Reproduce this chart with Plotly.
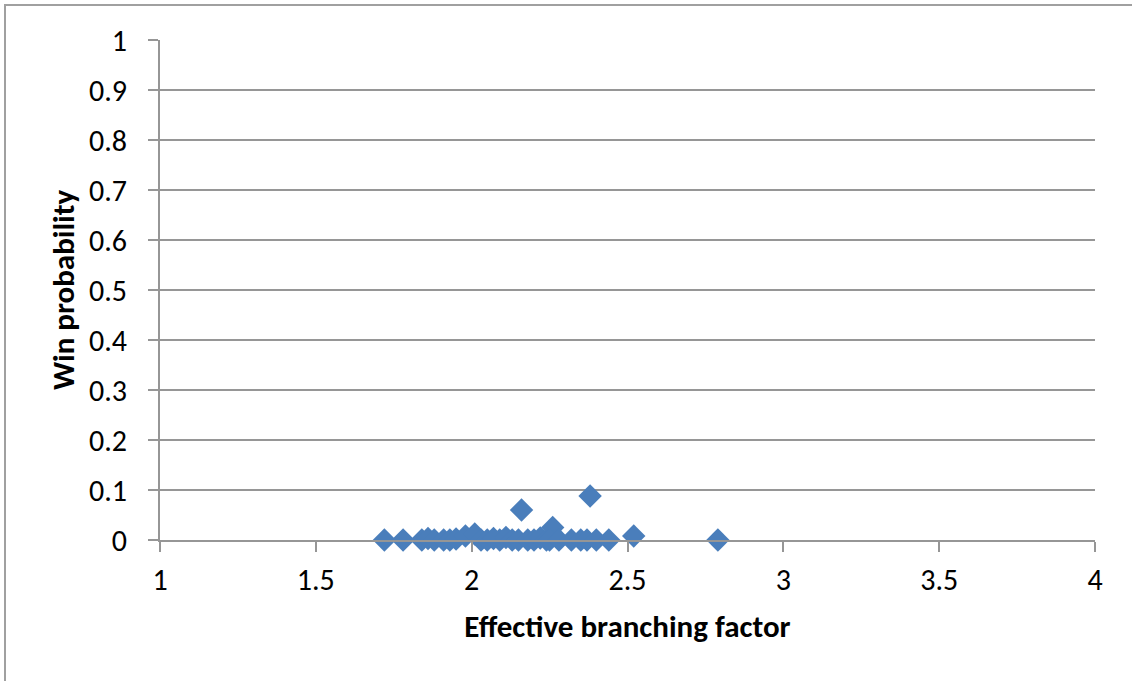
import plotly.graph_objects as go

branching = [1.72, 1.78, 1.84, 1.86, 1.88, 1.91, 1.93, 1.95, 1.98, 2.01, 2.03,
             2.05, 2.07, 2.09, 2.11, 2.13, 2.16, 2.15, 2.18, 2.20, 2.22, 2.24,
             2.26, 2.25, 2.28, 2.32, 2.35, 2.38, 2.37, 2.40, 2.44, 2.52, 2.79]
win_prob = [0.0, 0.0, 0.0, 0.003, 0.0, 0.0, 0.0, 0.002, 0.008, 0.012, 0.0,
            0.0, 0.003, 0.0, 0.005, 0.0, 0.06, 0.0, 0.0, 0.0, 0.004, 0.0,
            0.025, 0.0, 0.0, 0.0, 0.0, 0.088, 0.0, 0.0, 0.0, 0.008, 0.0]

x_ticks = [1, 1.5, 2, 2.5, 3, 3.5, 4]
x_tick_text = ["1", "1.5", "2", "2.5", "3", "3.5", "4"]
y_ticks = [0, 0.1, 0.2, 0.3, 0.4, 0.5, 0.6, 0.7, 0.8, 0.9, 1]
y_tick_text = ["0", "0.1", "0.2", "0.3", "0.4", "0.5", "0.6", "0.7", "0.8", "0.9", "1"]

font_family = "Carlito, Calibri, Lato, sans-serif"
W, H = 1132, 681
L, R, T, B = 160, 37, 40, 141
pw, ph = W - L - R, H - T - B

fig = go.Figure()
fig.add_trace(go.Scatter(
    x=branching, y=win_prob, mode="markers",
    marker=dict(symbol="diamond", size=18, color="#4A7EBB",
                line=dict(width=0)),
    showlegend=False, cliponaxis=False,
))

fig.update_layout(
    width=W, height=H,
    paper_bgcolor="white", plot_bgcolor="white",
    margin=dict(l=L, r=R, t=T, b=B, pad=0),
    font=dict(family=font_family, size=30, color="black"),
    shapes=[dict(type="rect", xref="paper", yref="paper",
                 x0=-(L - 5) / pw, x1=1 + (R + 20) / pw,
                 y0=-(B + 20) / ph, y1=1 + (T - 5) / ph,
                 line=dict(color="#A0A0A0", width=2))],
    xaxis=dict(
        range=[1, 4], tickvals=x_ticks, ticktext=x_tick_text,
        showgrid=False, zeroline=False,
        showline=True, linecolor="#969696", linewidth=2,
        ticks="outside", ticklen=10, tickcolor="#969696", tickwidth=2,
        tickfont=dict(size=30), ticklabelstandoff=2,
        title=dict(text="<b>Effective branching factor</b>", font=dict(size=31), standoff=18),
    ),
    yaxis=dict(
        range=[0, 1], tickvals=y_ticks, ticktext=y_tick_text,
        showgrid=True, gridcolor="#969696", gridwidth=2,
        zeroline=False,
        showline=True, linecolor="#969696", linewidth=2,
        ticks="outside", ticklen=10, tickcolor="#969696", tickwidth=2,
        tickfont=dict(size=30), ticklabelstandoff=15,
        title=dict(text="<b>Win probability</b>", font=dict(size=31), standoff=5),
    ),
)

fig.write_html("out.html", config={"displayModeBar": False},
               post_script="document.body.style.margin='0';document.body.style.overflow='hidden';")
